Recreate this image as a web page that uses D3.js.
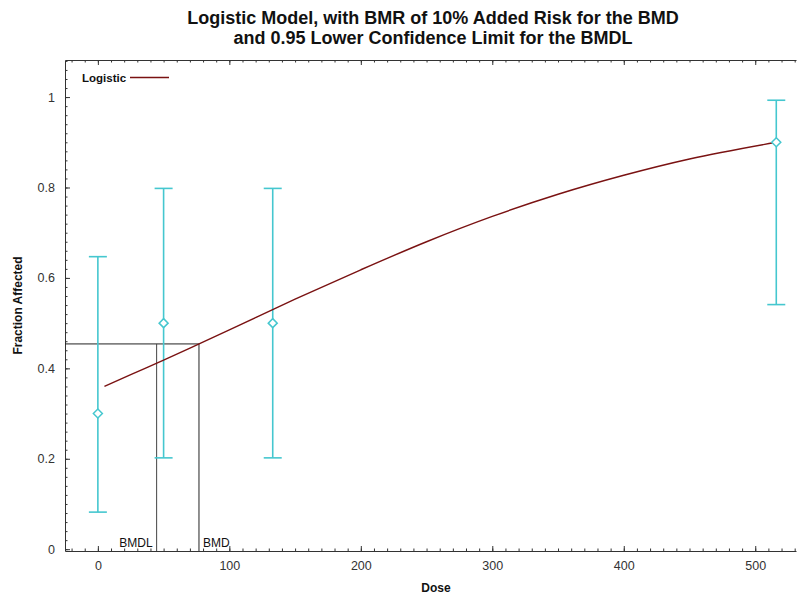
<!DOCTYPE html>
<html>
<head>
<meta charset="utf-8">
<script src="https://cdn.jsdelivr.net/npm/d3@7"></script>
<style>
  body { margin: 0; background: #fff; }
  svg { display: block; font-family: "Liberation Sans", Arial, sans-serif; }
</style>
</head>
<body>
<div id="chart"></div>
<script>
// observed data
const doses    = [0, 50, 133, 516];
const observed = [0.30, 0.50, 0.50, 0.90];
const ciLower  = [0.082, 0.202, 0.202, 0.541];
const ciUpper  = [0.647, 0.798, 0.798, 0.993];

// fitted logistic curve
const curveDose = [5, 25, 50, 77, 100, 150, 200, 250, 300, 350, 400, 450, 516];
const curveFrac = [0.360, 0.386, 0.418, 0.454, 0.485, 0.553, 0.618, 0.680, 0.736, 0.785, 0.827, 0.863, 0.900];

// benchmark dose
const bmd  = 76.9;
const bmdl = 44.7;
const bmdResponse = 0.454;

const xTicks = [0, 100, 200, 300, 400, 500];
const yTicks = [0, 0.2, 0.4, 0.6, 0.8, 1];

const width = 797, height = 594;
const margin = { top: 60, right: 1, bottom: 43, left: 65 };

const svg = d3.select("#chart").append("svg")
  .attr("width", width)
  .attr("height", height);

const x = d3.scaleLinear()
  .domain([-25, 531])
  .range([margin.left, width - margin.right]);

const y = d3.scaleLinear()
  .domain([-0.004, 1.082])
  .range([height - margin.bottom, margin.top]);

const axisColor = "#333";
const cyan = "#45c7cf";
const curveColor = "#7a1212";

// title
const title = svg.append("text")
  .attr("text-anchor", "middle")
  .attr("font-weight", "bold")
  .attr("font-size", "18px")
  .attr("fill", "#111");
title.append("tspan").attr("x", 433).attr("y", 24)
  .text("Logistic Model, with BMR of 10% Added Risk for the BMD");
title.append("tspan").attr("x", 433).attr("y", 44)
  .text("and 0.95 Lower Confidence Limit for the BMDL");

// axes
function styleAxis(g) {
  g.select(".domain").attr("stroke", axisColor);
  g.selectAll(".tick line").attr("stroke", axisColor);
  g.selectAll(".tick text")
    .attr("fill", "#333")
    .attr("font-size", "12.5px")
    .attr("font-family", "'Liberation Sans', Arial, sans-serif");
}

const xMinor = d3.range(-20, 531, 10);
const yMinor = d3.range(0, 1.081, 0.02);

// bottom
svg.append("g")
  .attr("transform", `translate(0,${height - margin.bottom})`)
  .call(d3.axisBottom(x).tickValues(xMinor).tickSize(-2.5).tickSizeOuter(0).tickFormat(""))
  .call(styleAxis);
svg.append("g")
  .attr("transform", `translate(0,${height - margin.bottom})`)
  .call(d3.axisBottom(x).tickValues(xTicks).tickSize(-5).tickSizeOuter(0).tickPadding(10))
  .call(g => g.select(".domain").remove())
  .call(styleAxis);

// top
svg.append("g")
  .attr("transform", `translate(0,${margin.top})`)
  .call(d3.axisTop(x).tickValues(xMinor).tickSize(-2.5).tickSizeOuter(0).tickFormat(""))
  .call(styleAxis);
svg.append("g")
  .attr("transform", `translate(0,${margin.top})`)
  .call(d3.axisTop(x).tickValues(xTicks).tickSize(-5).tickSizeOuter(0).tickFormat(""))
  .call(g => g.select(".domain").remove())
  .call(styleAxis);

// left
svg.append("g")
  .attr("transform", `translate(${margin.left},0)`)
  .call(d3.axisLeft(y).tickValues(yMinor).tickSize(-2.5).tickSizeOuter(0).tickFormat(""))
  .call(styleAxis);
svg.append("g")
  .attr("transform", `translate(${margin.left},0)`)
  .call(d3.axisLeft(y).tickValues(yTicks).tickSize(-5).tickSizeOuter(0).tickPadding(10)
    .tickFormat(d3.format("~g")))
  .call(g => g.select(".domain").remove())
  .call(styleAxis);

// axis titles
svg.append("text")
  .attr("x", 436).attr("y", 592)
  .attr("text-anchor", "middle")
  .attr("font-weight", "bold")
  .attr("font-size", "12px")
  .attr("fill", "#111")
  .text("Dose");

svg.append("text")
  .attr("transform", `translate(22,${(margin.top + height - margin.bottom) / 2}) rotate(-90)`)
  .attr("text-anchor", "middle")
  .attr("font-weight", "bold")
  .attr("font-size", "12px")
  .attr("fill", "#111")
  .text("Fraction Affected");

// BMD / BMDL guide lines
const guide = svg.append("g")
  .attr("stroke", "#222")
  .attr("stroke-width", 1)
  .attr("fill", "none");
guide.append("line")
  .attr("x1", x.range()[0]).attr("x2", x(bmd))
  .attr("y1", y(bmdResponse)).attr("y2", y(bmdResponse));
guide.append("line")
  .attr("x1", x(bmd)).attr("x2", x(bmd))
  .attr("y1", y(bmdResponse)).attr("y2", y.range()[0]);
guide.append("line")
  .attr("stroke", "#444")
  .attr("x1", x(bmdl)).attr("x2", x(bmdl))
  .attr("y1", y(bmdResponse)).attr("y2", y.range()[0]);

svg.append("text")
  .attr("x", x(bmdl) - 4).attr("y", y.range()[0] - 4)
  .attr("text-anchor", "end")
  .attr("font-size", "12px")
  .attr("fill", "#111")
  .text("BMDL");
svg.append("text")
  .attr("x", x(bmd) + 4).attr("y", y.range()[0] - 4)
  .attr("font-size", "12px")
  .attr("fill", "#111")
  .text("BMD");

// error bars
const obs = doses.map((d, i) => ({ dose: d, frac: observed[i], lo: ciLower[i], hi: ciUpper[i] }));
const capW = 9;
const bars = svg.append("g")
  .attr("stroke", cyan)
  .attr("stroke-width", 1.6)
  .attr("fill", "none");
bars.selectAll("line.stem")
  .data(obs).join("line")
  .attr("class", "stem")
  .attr("x1", d => x(d.dose)).attr("x2", d => x(d.dose))
  .attr("y1", d => y(d.lo)).attr("y2", d => y(d.hi));
bars.selectAll("line.capLo")
  .data(obs).join("line")
  .attr("class", "capLo")
  .attr("x1", d => x(d.dose) - capW).attr("x2", d => x(d.dose) + capW)
  .attr("y1", d => y(d.lo)).attr("y2", d => y(d.lo));
bars.selectAll("line.capHi")
  .data(obs).join("line")
  .attr("class", "capHi")
  .attr("x1", d => x(d.dose) - capW).attr("x2", d => x(d.dose) + capW)
  .attr("y1", d => y(d.hi)).attr("y2", d => y(d.hi));

// fitted curve
const fit = curveDose.map((d, i) => ({ dose: d, frac: curveFrac[i] }));
svg.append("path")
  .datum(fit)
  .attr("fill", "none")
  .attr("stroke", curveColor)
  .attr("stroke-width", 1.4)
  .attr("d", d3.line()
    .x(d => x(d.dose))
    .y(d => y(d.frac))
    .curve(d3.curveMonotoneX));

// diamonds
svg.append("g")
  .selectAll("path")
  .data(obs).join("path")
  .attr("transform", d => `translate(${x(d.dose)},${y(d.frac)})`)
  .attr("d", "M0,-4.5L4.5,0L0,4.5L-4.5,0Z")
  .attr("fill", "#fff")
  .attr("stroke", cyan)
  .attr("stroke-width", 1.5);

// legend
svg.append("text")
  .attr("x", 82).attr("y", 82)
  .attr("font-weight", "bold")
  .attr("font-size", "11.5px")
  .attr("fill", "#111")
  .text("Logistic");
svg.append("line")
  .attr("x1", 130).attr("x2", 169)
  .attr("y1", 77.5).attr("y2", 77.5)
  .attr("stroke", curveColor)
  .attr("stroke-width", 1.5);
</script>
</body>
</html>
